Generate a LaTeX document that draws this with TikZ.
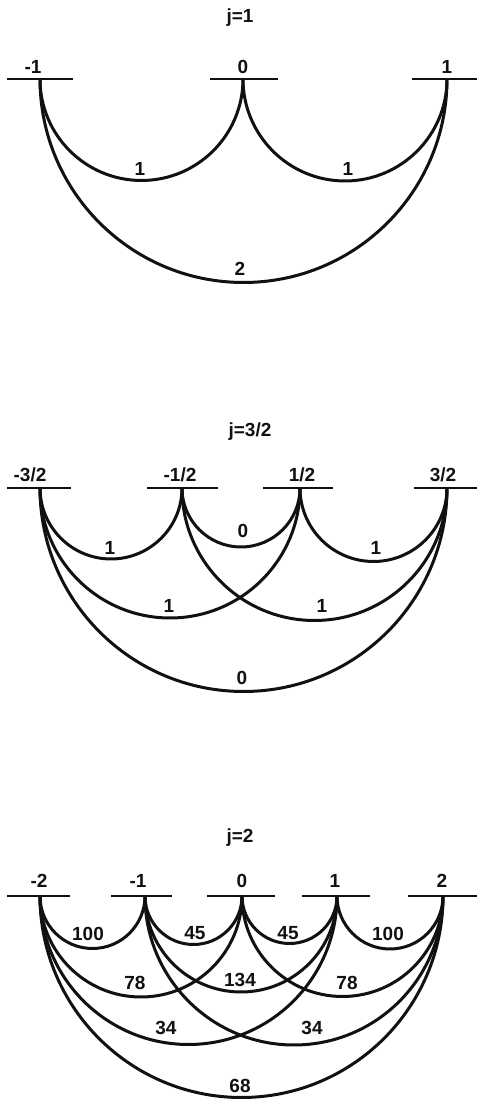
\documentclass[tikz,border=0pt]{standalone}
\usepackage{fontspec}
\setmainfont{Liberation Sans}
\usetikzlibrary{calc}
\definecolor{cInk}{HTML}{111111}
\tikzset{
  lvl/.style={draw=cInk, line width=2pt},
  arcln/.style={draw=cInk, line width=3pt},
  mlab/.style={anchor=base, inner sep=0pt, font=\fontsize{19}{21}\selectfont\bfseries, text=cInk},
  wlab/.style={mlab},
  ttl/.style={mlab},
}
% one hanging half circle between two sublevels
\newcommand{\hang}[2]{\draw[arcln] let \p1=(#1), \p2=(#2), \n1={0.5*(\x2-\x1)} in
  (#1) arc[start angle=180, end angle=360, radius=\n1];}
% a sublevel bar through a point
\newcommand{\levelbar}[3]{\draw[lvl] ($(#1)+(-#2,0)$) -- ($(#1)+(#3,0)$);}

\begin{document}
\begin{tikzpicture}[x=1pt,y=1pt]
\useasboundingbox (0,0) rectangle (477,1099);

% ------------------------------------------------------------ j = 1
\node[ttl] (t1) at (240,1076) {j=1};
\coordinate (aM1) at (40,1020);
\coordinate (a0)  at (243,1020);
\coordinate (aP1) at (447,1020);
\levelbar{aM1}{33}{33}
\levelbar{a0}{33}{35}
\levelbar{aP1}{35}{30}
\node[mlab] (laM1) at (33,1025)  {-1};
\node[mlab] (la0)  at (243,1025) {0};
\node[mlab] (laP1) at (447,1025) {1};

\hang{aM1}{a0}
\hang{a0}{aP1}
\hang{aM1}{aP1}
\node[wlab] (wa1) at (140,923) {1};
\node[wlab] (wa2) at (348,923) {1};
\node[wlab] (wa3) at (240,823) {2};

% ------------------------------------------------------------ j = 3/2
\node[ttl] (t2) at (250,662) {j=3/2};
\coordinate (bM3) at (40,611);
\coordinate (bM1) at (182,611);
\coordinate (bP1) at (300,611);
\coordinate (bP3) at (447,611);
\levelbar{bM3}{33}{31}
\levelbar{bM1}{35}{36}
\levelbar{bP1}{37}{33}
\levelbar{bP3}{33}{30}
\node[mlab] (lbM3) at (30,617)  {-3/2};
\node[mlab] (lbM1) at (180,617) {-1/2};
\node[mlab] (lbP1) at (302,617) {1/2};
\node[mlab] (lbP3) at (443,617) {3/2};

\foreach \u/\v in {bM3/bM1, bM1/bP1, bP1/bP3, bM3/bP1, bM1/bP3, bM3/bP3}
  {\hang{\u}{\v}}
\node[wlab] (wb1) at (110,544) {1};
\node[wlab] (wb2) at (243,561) {0};
\node[wlab] (wb3) at (376,544) {1};
\node[wlab] (wb4) at (169,486) {1};
\node[wlab] (wb5) at (322,486) {1};
\node[wlab] (wb6) at (242,414) {0};

% ------------------------------------------------------------ j = 2
\node[ttl] (t3) at (240,256) {j=2};
\coordinate (cM2) at (40,203);
\coordinate (cM1) at (145,203);
\coordinate (c0)  at (242,203);
\coordinate (cP1) at (337,203);
\coordinate (cP2) at (443,203);
\levelbar{cM2}{33}{30}
\levelbar{cM1}{34}{27}
\levelbar{c0}{35}{33}
\levelbar{cP1}{35}{33}
\levelbar{cP2}{35}{34}
\node[mlab] (lcM2) at (39,211)  {-2};
\node[mlab] (lcM1) at (138,211) {-1};
\node[mlab] (lc0)  at (242,211) {0};
\node[mlab] (lcP1) at (335,211) {1};
\node[mlab] (lcP2) at (442,211) {2};

\foreach \u/\v in {cM2/cM1, cM1/c0, c0/cP1, cP1/cP2,
                   cM2/c0, cM1/cP1, c0/cP2,
                   cM2/cP1, cM1/cP2, cM2/cP2}
  {\hang{\u}{\v}}
\node[wlab] (wc1)  at (88,158)  {100};
\node[wlab] (wc2)  at (195,159) {45};
\node[wlab] (wc3)  at (288,159) {45};
\node[wlab] (wc4)  at (388,158) {100};
\node[wlab] (wc5)  at (135,109) {78};
\node[wlab] (wc6)  at (240,112) {134};
\node[wlab] (wc7)  at (347,109) {78};
\node[wlab] (wc8)  at (166,64)  {34};
\node[wlab] (wc9)  at (312,64)  {34};
\node[wlab] (wc10) at (240,6)   {68};

\end{tikzpicture}
\end{document}
